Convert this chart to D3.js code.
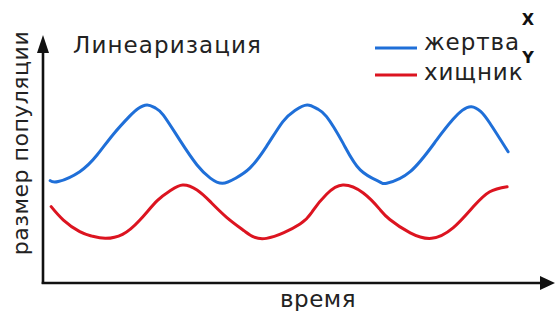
<!DOCTYPE html>
<html>
<head>
<meta charset="utf-8">
<script src="https://cdn.jsdelivr.net/npm/d3@7"></script>
<style>
    body { margin: 0; background: #ffffff; }
    text { font-family: 'DejaVu Sans', sans-serif; fill: #222222; }
</style>
</head>
<body>
<div id="graph"></div>
<script>
    // Time / population readings (arbitrary units)
    var preyTime   = [ 0.7, 1.5, 3.6, 5.3, 6.9, 8.5, 9.3, 10.2, 11.0, 11.8, 13.4, 15.1, 16.4, 17.6, 18.9, 20.3, 21.9, 23.5, 24.7, 25.9, 26.9, 27.8, 29.4, 31.1, 33.0, 33.7, 36.0, 38.6, 40.2, 41.1, 42.0, 42.9, 43.8, 45.6 ];
    var preyValues = [ 41.3, 40.9, 44.9, 51.6, 60.0, 67.3, 70.3, 71.8, 70.6, 67.7, 57.7, 47.6, 42.3, 40.2, 42.3, 46.4, 55.0, 65.0, 69.6, 71.8, 70.2, 67.1, 56.5, 45.6, 40.8, 40.2, 44.9, 57.7, 66.0, 69.6, 71.1, 69.2, 64.5, 52.9 ];

    var predatorTime   = [ 0.8, 2.0, 3.6, 4.8, 6.1, 7.8, 9.5, 11.2, 12.5, 13.7, 15.1, 16.4, 18.0, 19.8, 21.9, 25.2, 26.5, 27.8, 29.4, 31.4, 33.0, 34.0, 36.0, 38.1, 40.2, 42.2, 43.8, 45.5 ];
    var predatorValues = [ 30.8, 25.4, 20.7, 18.9, 18.0, 19.6, 25.4, 33.2, 37.3, 39.5, 37.5, 32.8, 26.5, 20.8, 18.0, 23.8, 29.4, 35.8, 39.5, 36.3, 29.8, 25.6, 20.2, 18.0, 22.2, 30.8, 36.8, 38.8 ];

    var seriesNames   = [ 'жертва', 'хищник' ];
    var seriesLetters = [ 'X', 'Y' ];
    var colours = [ '#1f6fd8', '#dc1420' ];

    var titleText  = 'Линеаризация';
    var xAxisLabel = 'время';
    var yAxisLabel = 'размер популяции';

    var width  = 556;
    var height = 311;

    var svg = d3.select('#graph').append('svg')
                .attr('width', width)
                .attr('height', height);

    // scales: x = time, y = population
    var xScale = d3.scaleLinear().domain([0, 50]).range([43, 553]);
    var yScale = d3.scaleLinear().domain([0, 100]).range([283, 35]);

    // axes with arrow heads
    svg.append('line')
       .attr('x1', xScale(0)).attr('y1', yScale(0) + 1)
       .attr('x2', xScale(0)).attr('y2', yScale(100) + 10)
       .attr('stroke', '#111').attr('stroke-width', 2.6);

    svg.append('line')
       .attr('x1', xScale(0) - 1.3).attr('y1', yScale(0))
       .attr('x2', xScale(50) - 10).attr('y2', yScale(0))
       .attr('stroke', '#111').attr('stroke-width', 2.6);

    var ax = xScale(0), ay = yScale(100);
    svg.append('path')
       .attr('d', 'M' + ax + ',' + ay + 'L' + (ax + 6) + ',' + (ay + 18) + 'L' + (ax - 6) + ',' + (ay + 18) + 'Z')
       .attr('fill', '#111');

    var bx = xScale(50) + 2, by = yScale(0);
    svg.append('path')
       .attr('d', 'M' + bx + ',' + by + 'L' + (bx - 15) + ',' + (by - 7) + 'L' + (bx - 15) + ',' + (by + 7) + 'Z')
       .attr('fill', '#111');

    // curves
    var line = d3.line()
                 .x(function(d) { return xScale(d[0]); })
                 .y(function(d) { return yScale(d[1]); })
                 .curve(d3.curveNatural);

    var series = [ d3.zip(preyTime, preyValues), d3.zip(predatorTime, predatorValues) ];

    svg.selectAll('path.series')
       .data(series)
       .enter()
       .append('path')
       .attr('class', 'series')
       .attr('d', line)
       .attr('fill', 'none')
       .attr('stroke', function(d, i) { return colours[i]; })
       .attr('stroke-width', 3)
       .attr('stroke-linecap', 'round');

    // title
    svg.append('text')
       .attr('x', 73).attr('y', 53)
       .attr('font-size', '23px')
       .attr('letter-spacing', '1.1px')
       .text(titleText);

    // legend
    for (var i = 0; i < seriesNames.length; i++)
    {
        var ly = 48 + i * 27;
        svg.append('line')
           .attr('x1', 375).attr('x2', 417)
           .attr('y1', ly).attr('y2', ly)
           .attr('stroke', colours[i])
           .attr('stroke-width', 3.2);

        svg.append('text')
           .attr('x', 424).attr('y', ly + 2 + i * 3)
           .attr('font-size', '23px')
           .attr('letter-spacing', '0.9px')
           .text(seriesNames[i]);

        svg.append('text')
           .attr('x', 528).attr('y', 25 + i * 38)
           .attr('font-size', '16px')
           .attr('font-weight', 'bold')
           .attr('text-anchor', 'middle')
           .style('fill', '#111')
           .text(seriesLetters[i]);
    }

    // axis labels
    svg.append('text')
       .attr('x', 280).attr('y', 307)
       .attr('font-size', '23px')
       .attr('letter-spacing', '0.5px')
       .text(xAxisLabel);

    svg.append('text')
       .attr('transform', 'translate(28,' + 143 + ') rotate(-90)')
       .attr('text-anchor', 'middle')
       .attr('font-size', '22px')
       .attr('letter-spacing', '0.5px')
       .text(yAxisLabel);
</script>
</body>
</html>
